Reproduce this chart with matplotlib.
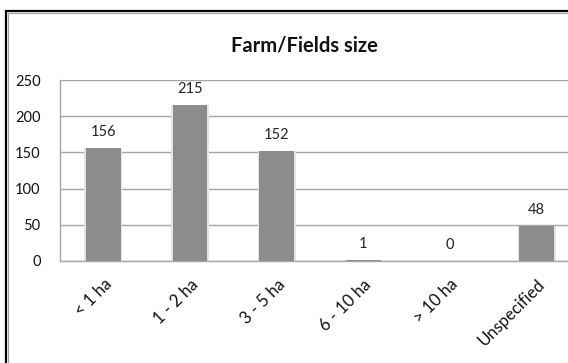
#!/usr/bin/env python3

#
# Bar chart of farm/field sizes reported in the survey.
#

import matplotlib as mpl

mpl.use('Agg')
import matplotlib.pyplot as plt
from matplotlib.patches import Rectangle

# data
categories = ['< 1 ha', '1 - 2 ha', '3 - 5 ha', '6 - 10 ha', '> 10 ha', 'Unspecified']
counts = [156, 215, 152, 1, 0, 48]
y_ticks = [0, 50, 100, 150, 200, 250]

plt.rcParams['font.family'] = ['Lato', 'DejaVu Sans']

figure = plt.figure(figsize=(5.68, 3.63), dpi=100)

# chart frame (double border, cut by the image edge on the right and bottom)
figure.patches.append(Rectangle((5.5 / 568, -0.1), 1.2, 1 - 10.5 / 363 + 0.1,
                                transform=figure.transFigure, fill=False,
                                edgecolor='black', linewidth=1.6, zorder=0))
figure.patches.append(Rectangle((7.5 / 568, -0.1), 1.2, 1 - 12.5 / 363 + 0.1,
                                transform=figure.transFigure, fill=False,
                                edgecolor='#a0a0a0', linewidth=0.8, zorder=0))

ax = figure.add_axes([60 / 568, 1 - 261 / 363, 520 / 568, 181 / 363])
positions = list(range(len(categories)))

# soft halo behind the bars, then the bars themselves
ax.bar(positions, counts, width=0.44, color='#e4e4e4', zorder=2)
ax.bar(positions, counts, width=0.40, color='#8c8c8c', zorder=3)

for x, value in zip(positions, counts):
    ax.annotate(str(value), (x, value), xytext=(0, 11.5), textcoords='offset points',
                ha='center', va='center', fontsize=10.5, color='#222222')

ax.set_xlim(-0.5, 5.5)
ax.set_ylim(0, 250)
ax.set_yticks(y_ticks)
ax.set_xticks(positions)
ax.set_xticklabels(categories, rotation=45, ha='right', rotation_mode='anchor', fontsize=12)
ax.tick_params(axis='both', length=0, colors='#111111')
ax.tick_params(axis='y', labelsize=10.5, pad=14)
ax.tick_params(axis='x', pad=11)
ax.grid(True, axis='y', color='#a6a6a6', linewidth=1.0, zorder=1)
ax.set_axisbelow(True)

for side in ['top', 'right']:
    ax.spines[side].set_visible(False)
for side in ['left', 'bottom']:
    ax.spines[side].set_color('#a6a6a6')
    ax.spines[side].set_linewidth(1.0)

figure.text(304 / 568, 1 - 45 / 363, 'Farm/Fields size', ha='center', va='center',
            fontsize=14.5, fontweight='bold', color='#111111')

figure.savefig('out.png', dpi=100)
plt.close(figure)
